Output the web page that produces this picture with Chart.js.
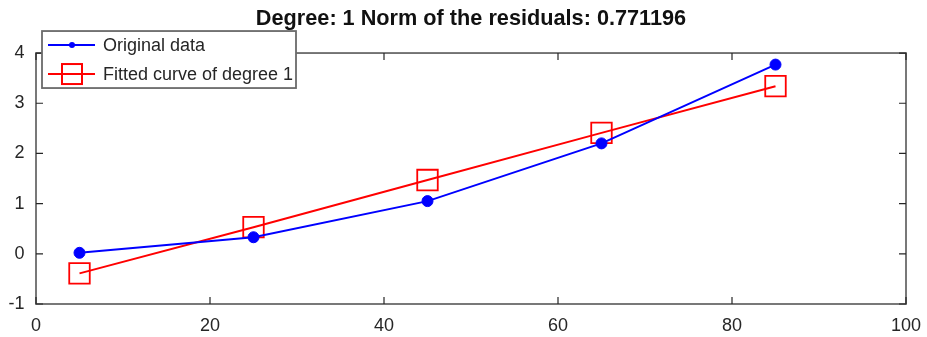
<!DOCTYPE html>
<html>
<head>
<meta charset="utf-8">
<script src="https://cdn.jsdelivr.net/npm/chart.js@4"></script>
<style>
  html, body { margin: 0; padding: 0; background: #fff; }
  #wrap { position: relative; width: 927px; height: 337px; }
</style>
</head>
<body>
<div id="wrap"><canvas id="chart"></canvas></div>
<script>
// data
const xValues = [5, 25, 45, 65, 85];
const originalY = [0.02, 0.33, 1.05, 2.2, 3.77];
const fittedY = [-0.39, 0.53, 1.47, 2.41, 3.34];
const xTicks = [0, 20, 40, 60, 80, 100];
const yTicks = [-1, 0, 1, 2, 3, 4];

const AXIS_COLOR = "#262626";
const FRAME_COLOR = "#6a6a6a";
const FONT = "'Liberation Sans', Arial, sans-serif";

const toPoints = (xs, ys) => xs.map((x, i) => ({ x: x, y: ys[i] }));

// box + inward ticks on all four sides, and the octave style legend
const framePlugin = {
  id: "frame",
  beforeDatasetsDraw(chart) {
    const { ctx, chartArea: a, scales } = chart;
    ctx.save();
    ctx.strokeStyle = FRAME_COLOR;
    ctx.lineWidth = 1.8;
    ctx.strokeRect(a.left, a.top, a.right - a.left, a.bottom - a.top);
    ctx.strokeStyle = AXIS_COLOR;
    ctx.lineWidth = 1.2;
    ctx.beginPath();
    xTicks.forEach((v) => {
      const px = scales.x.getPixelForValue(v);
      ctx.moveTo(px, a.bottom);
      ctx.lineTo(px, a.bottom - 7);
      ctx.moveTo(px, a.top);
      ctx.lineTo(px, a.top + 7);
    });
    yTicks.forEach((v) => {
      const py = scales.y.getPixelForValue(v);
      ctx.moveTo(a.left, py);
      ctx.lineTo(a.left + 7, py);
      ctx.moveTo(a.right, py);
      ctx.lineTo(a.right - 7, py);
    });
    ctx.stroke();
    ctx.restore();
  },
  afterDraw(chart) {
    const { ctx, chartArea: a } = chart;
    const sets = chart.data.datasets;
    const bx = a.left + 6, by = a.top - 22, bw = 254, bh = 57;
    ctx.save();
    ctx.fillStyle = "#fff";
    ctx.fillRect(bx, by, bw, bh);
    ctx.strokeStyle = FRAME_COLOR;
    ctx.lineWidth = 1.8;
    ctx.strokeRect(bx, by, bw, bh);

    const rows = [by + 14, by + 43];
    sets.forEach((ds, i) => {
      const y = rows[i];
      ctx.strokeStyle = ds.borderColor;
      ctx.lineWidth = 2;
      ctx.beginPath();
      ctx.moveTo(bx + 6, y);
      ctx.lineTo(bx + 53, y);
      ctx.stroke();
      if (i === 0) {
        ctx.fillStyle = ds.borderColor;
        ctx.beginPath();
        ctx.arc(bx + 30, y, 3, 0, Math.PI * 2);
        ctx.fill();
      } else {
        ctx.strokeRect(bx + 20, y - 10, 20, 20);
      }
      ctx.fillStyle = AXIS_COLOR;
      ctx.font = "18px " + FONT;
      ctx.textBaseline = "middle";
      ctx.textAlign = "left";
      ctx.fillText(ds.label, bx + 61, y + 1);
    });
    ctx.restore();
  },
};

new Chart(document.getElementById("chart"), {
  type: "scatter",
  data: {
    datasets: [
      {
        label: "Original data",
        data: toPoints(xValues, originalY),
        showLine: true,
        borderColor: "#0000ff",
        backgroundColor: "#0000ff",
        borderWidth: 2,
        pointStyle: "circle",
        pointRadius: 5.5,
        pointBorderWidth: 1,
      },
      {
        label: "Fitted curve of degree 1",
        data: toPoints(xValues, fittedY),
        showLine: true,
        borderColor: "#ff0000",
        backgroundColor: "rgba(0,0,0,0)",
        borderWidth: 2,
        pointStyle: "rect",
        pointRadius: 14.5,
        pointBorderWidth: 1.8,
      },
    ],
  },
  options: {
    responsive: true,
    maintainAspectRatio: false,
    animation: false,
    layout: { padding: { top: 0, right: 21, left: 0, bottom: 0 } },
    plugins: {
      legend: { display: false },
      tooltip: { enabled: false },
      title: {
        display: true,
        fullSize: false,
        text: "Degree: 1 Norm of the residuals: 0.771196",
        color: "#111",
        font: { family: FONT, size: 21.7, weight: "bold", lineHeight: 1.2 },
        padding: { top: 6.5, bottom: 20.5 },
      },
    },
    scales: {
      x: {
        type: "linear",
        min: 0,
        max: 100,
        afterFit: (s) => { s.height = 33; s.paddingLeft = 0; s.paddingRight = 0; },
        afterBuildTicks: (s) => { s.ticks = xTicks.map((v) => ({ value: v })); },
        ticks: {
          color: AXIS_COLOR,
          font: { family: FONT, size: 18 },
          padding: 11,
          maxRotation: 0,
          autoSkip: false,
        },
        grid: { display: false, drawTicks: false },
        border: { display: false },
      },
      y: {
        type: "linear",
        min: -1,
        max: 4,
        afterFit: (s) => { s.width = 36; s.paddingTop = 0; s.paddingBottom = 0; },
        afterBuildTicks: (s) => { s.ticks = yTicks.map((v) => ({ value: v })); },
        ticks: {
          color: AXIS_COLOR,
          font: { family: FONT, size: 18 },
          padding: 11.5,
          autoSkip: false,
        },
        grid: { display: false, drawTicks: false },
        border: { display: false },
      },
    },
  },
  plugins: [framePlugin],
});
</script>
</body>
</html>
